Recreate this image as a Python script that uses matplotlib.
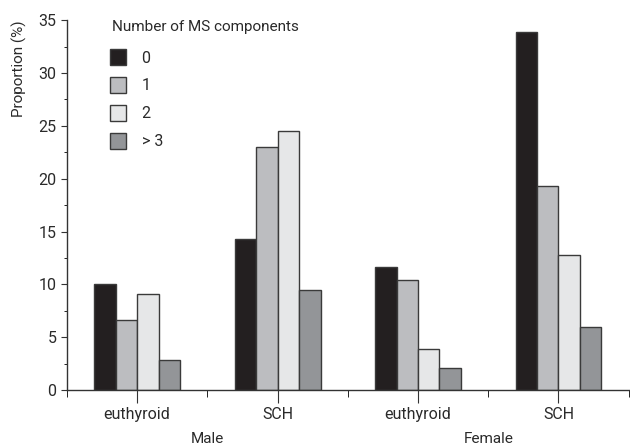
import numpy as np
import matplotlib.pyplot as plt
from matplotlib.ticker import MultipleLocator

# data
groups = ['euthyroid', 'SCH', 'euthyroid', 'SCH']
sexes = ['Male', 'Female']
components = ['0', '1', '2', '> 3']
vals_0 = [10.0, 14.3, 11.7, 33.9]
vals_1 = [6.6, 23.0, 10.4, 19.3]
vals_2 = [9.1, 24.5, 3.9, 12.8]
vals_3 = [2.9, 9.5, 2.1, 6.0]
colors = ['#231f20', '#bcbdc0', '#e6e7e8', '#939598']

plt.rcParams['font.family'] = ['Roboto', 'DejaVu Sans']
txt = '#2a2a2a'

fig = plt.figure(figsize=(6.3, 4.48), dpi=100)
ax = fig.add_axes([0.106, 0.129, 0.892, 0.826])

x = np.arange(len(groups))
w = 0.153
series = [vals_0, vals_1, vals_2, vals_3]
for i, (vals, c) in enumerate(zip(series, colors)):
    ax.bar(x + (i - 1.5) * w, vals, w, color=c, edgecolor='#3a3a3a',
           linewidth=1.0, label=components[i])

ax.set_xlim(-0.5, 3.5)
ax.set_ylim(0, 35)
ax.yaxis.set_major_locator(MultipleLocator(5))
ax.yaxis.set_minor_locator(MultipleLocator(2.5))
ax.set_xticks(x)
ax.set_xticklabels(groups)
ax.set_xticks(np.arange(-0.5, 4, 1), minor=True)
for s in ['top', 'right']:
    ax.spines[s].set_visible(False)
for s in ['left', 'bottom']:
    ax.spines[s].set_color('#333333')
    ax.spines[s].set_linewidth(1.0)
ax.tick_params(axis='both', colors='#333333', labelcolor=txt, labelsize=11.5)
ax.tick_params(axis='x', which='major', length=9, pad=3)
ax.tick_params(axis='x', which='minor', length=5)
ax.tick_params(axis='y', which='major', length=4)
ax.tick_params(axis='y', which='minor', length=2)
ax.set_ylabel('Proportion (%)', fontsize=11, color=txt, labelpad=8, loc='top')

for j, s in enumerate(sexes):
    ax.text(0.5 + 2 * j, -0.112, s, transform=ax.get_xaxis_transform(),
            ha='center', va='top', fontsize=11, color=txt)

# legend title drawn on its own so the gap to the entries matches
fig.text(0.178, 0.94, 'Number of MS components', ha='left', va='center',
         fontsize=11, color=txt)
leg = ax.legend(loc='upper left', bbox_to_anchor=(0.174, 0.89),
                bbox_transform=fig.transFigure, borderaxespad=0, borderpad=0,
                frameon=False, fontsize=11.5, handlelength=1.0,
                handleheight=1.15, labelspacing=0.72, handletextpad=1.0)
for t in leg.get_texts():
    t.set_color(txt)

fig.savefig('out.png', dpi=100)
